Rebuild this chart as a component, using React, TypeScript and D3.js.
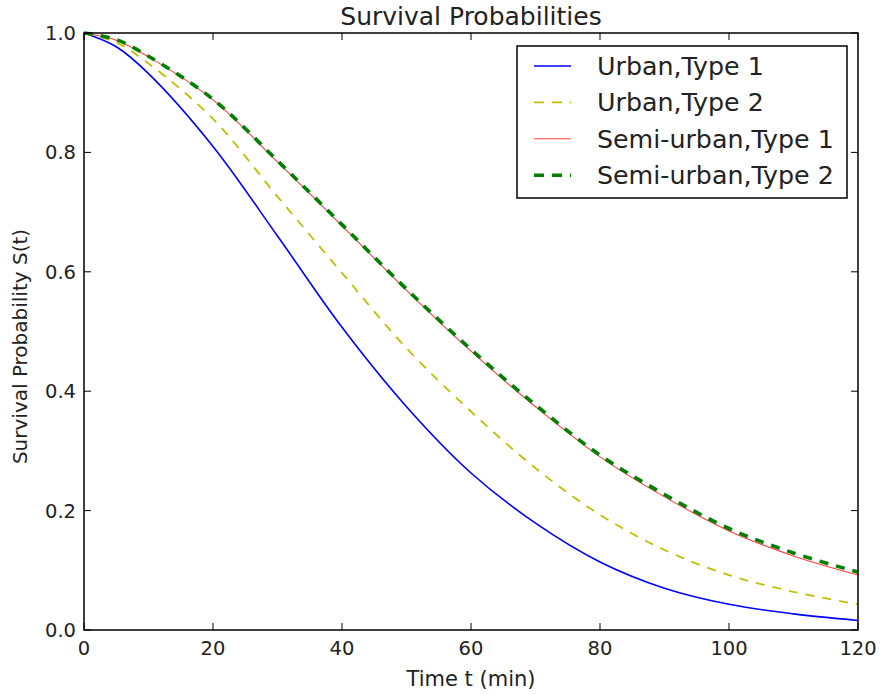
import { useRef, useEffect } from 'react';
import * as d3 from 'd3';

// time points (min)
const times = [0, 5, 10, 20, 30, 40, 50, 60, 70, 80, 90, 100, 110, 120];

const urbanType1 = [1.0, 0.977, 0.932, 0.81, 0.66, 0.507, 0.374, 0.263, 0.179, 0.114, 0.07, 0.043, 0.027, 0.016];
const urbanType2 = [1.0, 0.984, 0.949, 0.856, 0.726, 0.598, 0.472, 0.366, 0.271, 0.193, 0.134, 0.092, 0.064, 0.043];
const semiType1 = [1.0, 0.988, 0.96, 0.888, 0.784, 0.677, 0.569, 0.467, 0.374, 0.29, 0.223, 0.166, 0.124, 0.092];
const semiType2 = [1.0, 0.989, 0.961, 0.889, 0.786, 0.679, 0.571, 0.47, 0.377, 0.293, 0.227, 0.17, 0.129, 0.097];

const seriesNames = ['Urban,Type 1', 'Urban,Type 2', 'Semi-urban,Type 1', 'Semi-urban,Type 2'];
const xTicks = [0, 20, 40, 60, 80, 100, 120];
const yTicks = [0.0, 0.2, 0.4, 0.6, 0.8, 1.0];

const App = () => {
    const ref = useRef(null);

    useEffect(() => {
        const svg = d3.select(ref.current);
        svg.selectAll('*').remove();

        const width = 881;
        const height = 694;
        const margin = { top: 33, right: 23, bottom: 64, left: 84 };
        const innerWidth = width - margin.left - margin.right;
        const innerHeight = height - margin.top - margin.bottom;
        const font = 'DejaVu Sans, sans-serif';

        svg.append('rect').attr('width', width).attr('height', height).attr('fill', '#fff');

        const g = svg.append('g')
            .attr('transform', `translate(${margin.left},${margin.top})`);

        const x = d3.scaleLinear().domain([0, 120]).range([0, innerWidth]);
        const y = d3.scaleLinear().domain([0, 1]).range([innerHeight, 0]);

        const styles = [
            { color: '#0000ff', width: 1.6, dash: null },
            { color: '#bfbf00', width: 1.8, dash: '9,8' },
            { color: '#ff4040', width: 1.1, dash: null },
            { color: '#008000', width: 3.6, dash: '9,8' },
        ];
        const allSeries = [urbanType1, urbanType2, semiType1, semiType2];

        const line = d3.line()
            .x((d) => x(d[0]))
            .y((d) => y(d[1]))
            .curve(d3.curveCatmullRom.alpha(0.5));

        allSeries.forEach((vals, i) => {
            const pts = times.map((t, j) => [t, vals[j]]);
            g.append('path')
                .datum(pts)
                .attr('d', line)
                .attr('fill', 'none')
                .attr('stroke', styles[i].color)
                .attr('stroke-width', styles[i].width)
                .attr('stroke-dasharray', styles[i].dash);
        });

        // inward ticks on all sides
        const tickLen = 7;
        xTicks.forEach((t) => {
            g.append('line').attr('x1', x(t)).attr('x2', x(t)).attr('y1', innerHeight).attr('y2', innerHeight - tickLen)
                .attr('stroke', '#000').attr('stroke-width', 1);
            g.append('line').attr('x1', x(t)).attr('x2', x(t)).attr('y1', 0).attr('y2', tickLen)
                .attr('stroke', '#000').attr('stroke-width', 1);
            g.append('text')
                .attr('x', x(t))
                .attr('y', innerHeight + 25)
                .attr('text-anchor', 'middle')
                .attr('font-family', font)
                .attr('font-size', 19.5)
                .attr('fill', '#222')
                .text(t);
        });
        yTicks.forEach((v) => {
            g.append('line').attr('x1', 0).attr('x2', tickLen).attr('y1', y(v)).attr('y2', y(v))
                .attr('stroke', '#000').attr('stroke-width', 1);
            g.append('line').attr('x1', innerWidth).attr('x2', innerWidth - tickLen).attr('y1', y(v)).attr('y2', y(v))
                .attr('stroke', '#000').attr('stroke-width', 1);
            g.append('text')
                .attr('x', -8)
                .attr('y', y(v) + 7)
                .attr('text-anchor', 'end')
                .attr('font-family', font)
                .attr('font-size', 19.5)
                .attr('fill', '#222')
                .text(v.toFixed(1));
        });

        g.append('rect')
            .attr('width', innerWidth)
            .attr('height', innerHeight)
            .attr('fill', 'none')
            .attr('stroke', '#000')
            .attr('stroke-width', 1.5);

        // title and axis labels
        svg.append('text')
            .attr('x', margin.left + innerWidth / 2)
            .attr('y', 25)
            .attr('text-anchor', 'middle')
            .attr('font-family', font)
            .attr('font-size', 25)
            .attr('fill', '#222')
            .text('Survival Probabilities');

        svg.append('text')
            .attr('x', margin.left + innerWidth / 2)
            .attr('y', 686)
            .attr('text-anchor', 'middle')
            .attr('font-family', font)
            .attr('font-size', 21)
            .attr('fill', '#222')
            .text('Time t (min)');

        svg.append('text')
            .attr('transform', `translate(27,${margin.top + innerHeight / 2 + 15}) rotate(-90)`)
            .attr('text-anchor', 'middle')
            .attr('font-family', font)
            .attr('font-size', 20)
            .attr('fill', '#222')
            .text('Survival Probability S(t)');

        // legend
        const legend = svg.append('g').attr('transform', 'translate(517,46)');
        legend.append('rect')
            .attr('width', 330)
            .attr('height', 152)
            .attr('fill', '#fff')
            .attr('stroke', '#000')
            .attr('stroke-width', 1.5);
        seriesNames.forEach((name, i) => {
            const ly = 20 + i * 36.4;
            legend.append('line')
                .attr('x1', 17).attr('x2', 54)
                .attr('y1', ly).attr('y2', ly)
                .attr('stroke', styles[i].color)
                .attr('stroke-width', styles[i].width)
                .attr('stroke-dasharray', styles[i].dash ? '10,8' : null);
            legend.append('text')
                .attr('x', 80)
                .attr('y', ly + 9)
                .attr('font-family', font)
                .attr('font-size', 25.3)
                .attr('fill', '#222')
                .text(name);
        });
    }, []);

    return (
        <svg
            ref={ref}
            width={881}
            height={694}
            style={{ position: 'absolute', left: 0, top: 0, display: 'block' }}
        ></svg>
    );
};

export default App;
